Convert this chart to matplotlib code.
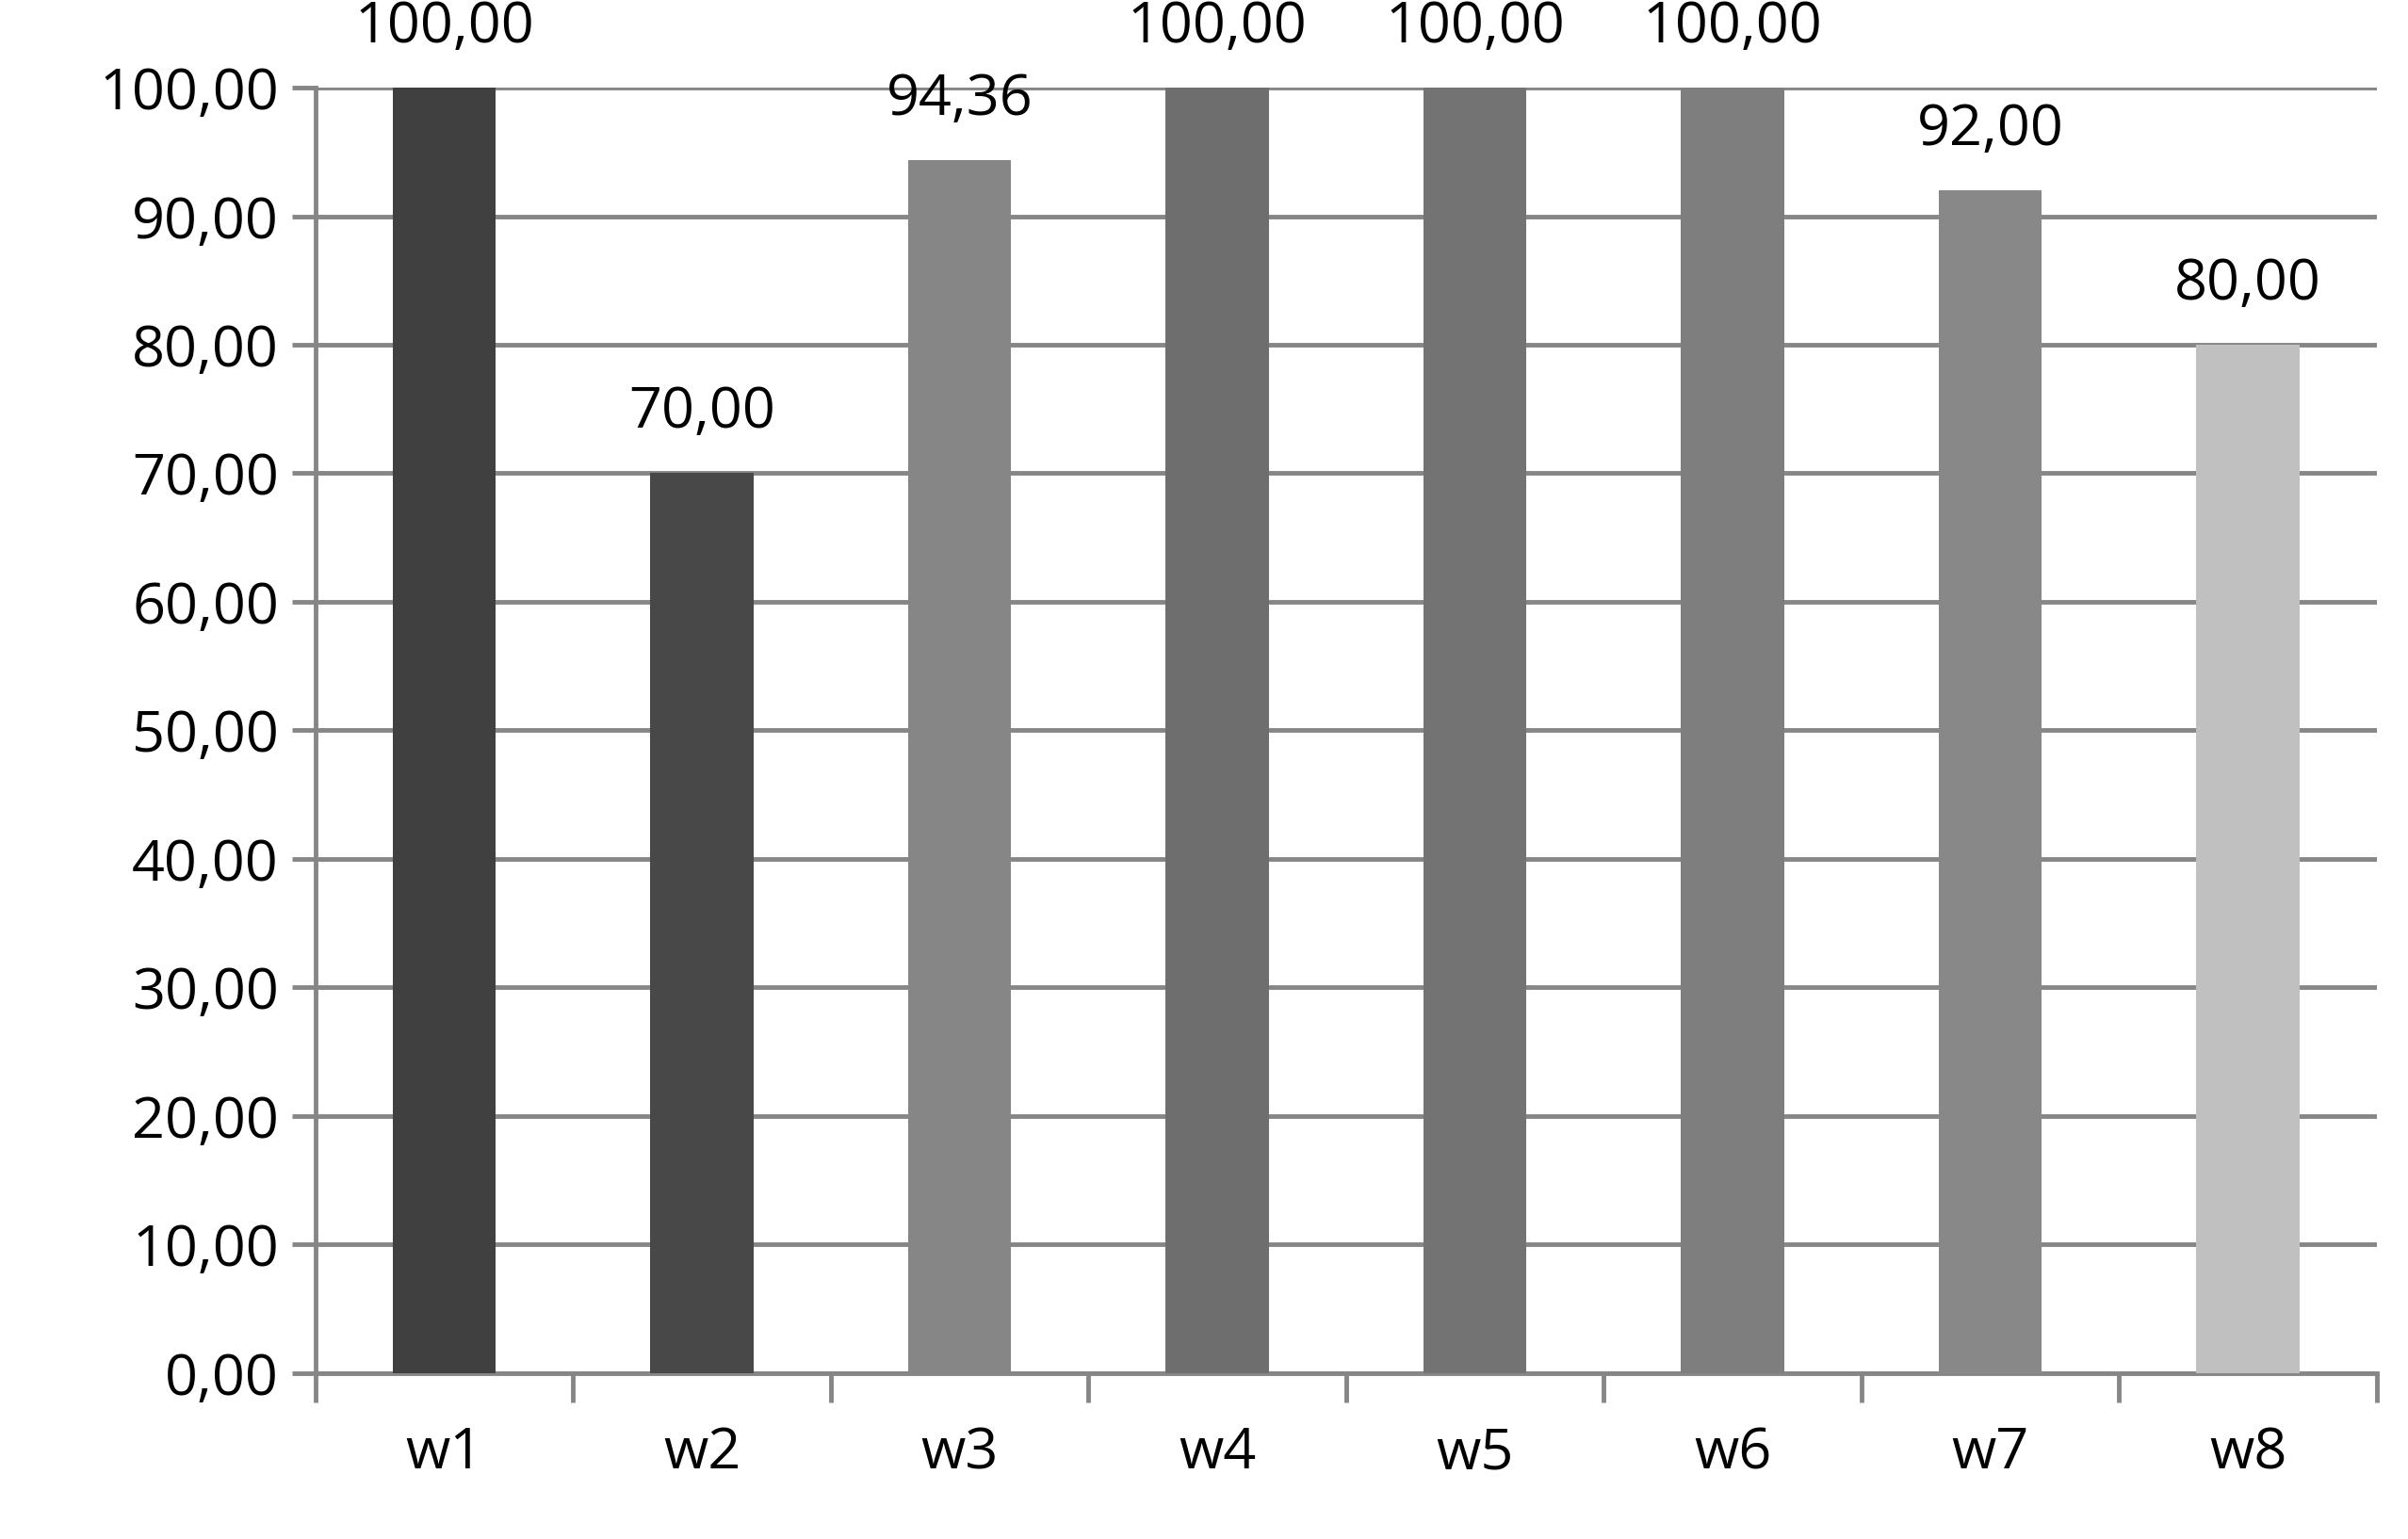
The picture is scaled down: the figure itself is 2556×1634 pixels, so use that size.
import numpy as np
import matplotlib.pyplot as plt

categories = ["w1", "w2", "w3", "w4", "w5", "w6", "w7", "w8"]
values = [100.00, 70.00, 94.36, 100.00, 100.00, 100.00, 92.00, 80.00]
colors = ["#404040", "#484848", "#868686", "#6e6e6e", "#737373", "#7e7e7e", "#888888", "#c0c0c0"]

plt.rcParams["font.family"] = ["Open Sans", "DejaVu Sans"]
fig = plt.figure(figsize=(25.56, 16.34), dpi=100)
ax = fig.add_axes([0.131, 0.108, 0.856, 0.835])

x = np.arange(len(categories))
ax.bar(x, values, width=0.4, color=colors, zorder=3)
for xi, v in zip(x, values):
    ax.text(xi, v + 2.5, f"{v:.2f}".replace(".", ","), ha="center", va="bottom",
            fontsize=44, zorder=4)

ax.set_xlim(-0.5, len(categories) - 0.5)
ax.set_ylim(0, 100)
yt = np.arange(0, 101, 10)
ax.set_yticks(yt)
ax.set_yticklabels([f"{t:.2f}".replace(".", ",") for t in yt], fontsize=44)
ax.yaxis.grid(True, color="#868686", linewidth=3.5, zorder=0)

ax.set_xticks(np.arange(-0.5, len(categories), 1))
ax.set_xticklabels([])
ax.set_xticks(x, minor=True)
ax.set_xticklabels(categories, minor=True, fontsize=44)
ax.tick_params(axis="x", which="major", length=22, width=3.5, color="#868686", direction="out")
ax.tick_params(axis="x", which="minor", length=0, pad=40)
ax.tick_params(axis="y", length=18, width=3.5, color="#868686", pad=10)

for s in ["top", "right"]:
    ax.spines[s].set_visible(False)
for s in ["left", "bottom"]:
    ax.spines[s].set_color("#868686")
    ax.spines[s].set_linewidth(3.5)

fig.savefig("out.png", dpi=100)
